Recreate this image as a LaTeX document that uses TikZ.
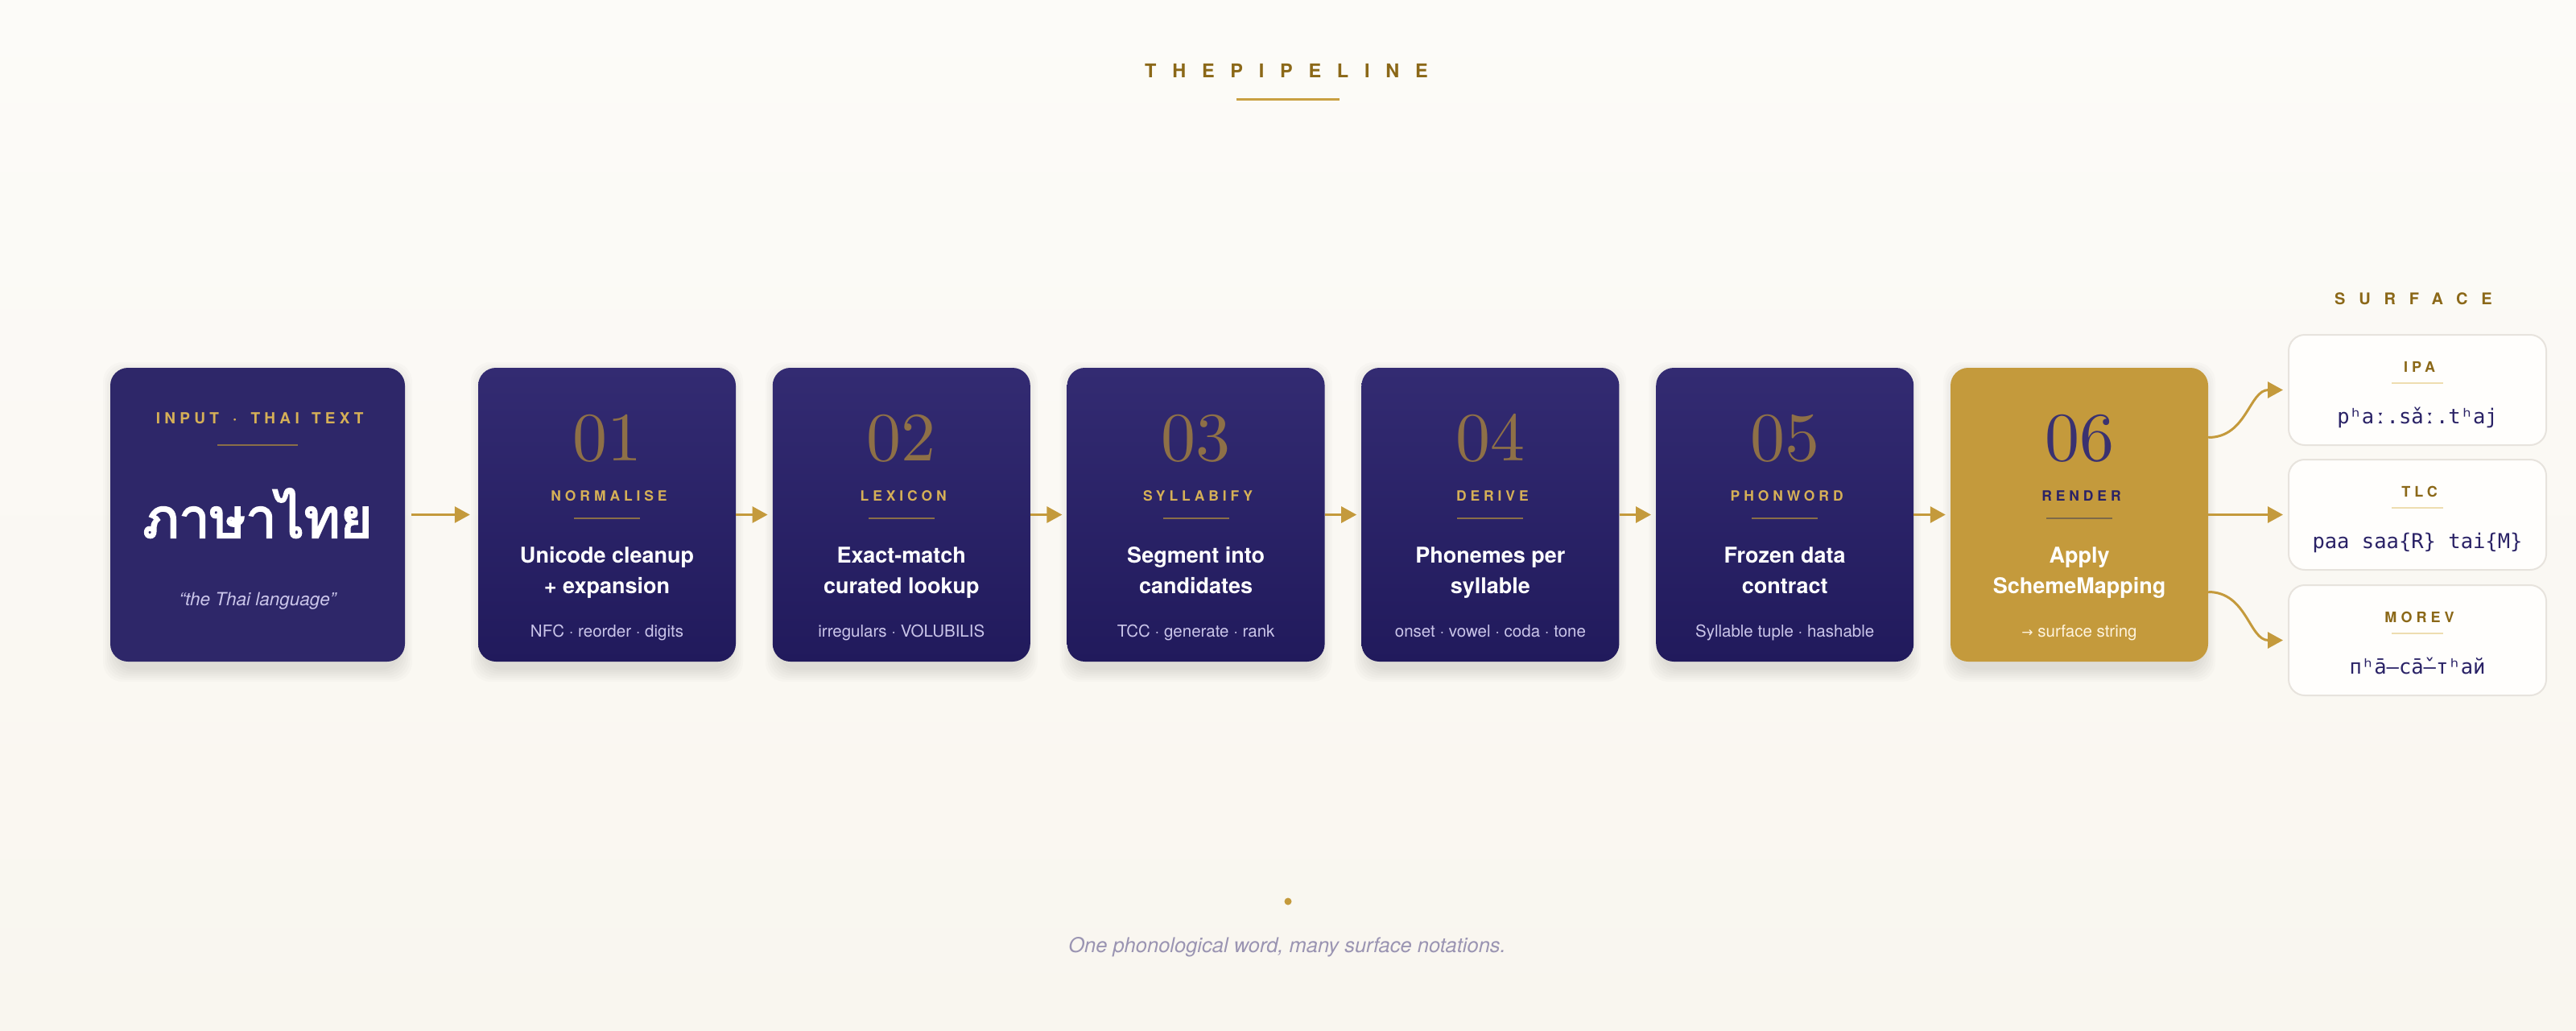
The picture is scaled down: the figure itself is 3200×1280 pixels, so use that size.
\documentclass[tikz,border=0pt]{standalone}
\usepackage{fontspec}
\usetikzlibrary{arrows.meta,calc}
\newfontfamily\heros{TeX Gyre Heros}
\newfontfamily\trackfont[LetterSpace=28]{TeX Gyre Heros}
\newfontfamily\widetrack[LetterSpace=84]{TeX Gyre Heros}
\newfontfamily\monof{DejaVu Sans Mono}
\newfontfamily\thaifont[Script=Thai,FakeBold=3]{Loma}
\newfontfamily\symfont{DejaVu Sans}
\newfontfamily\numfont{lmroman10-regular.otf}
\newcommand\fsz[1]{\fontsize{#1}{#1}\selectfont}
\definecolor{bgTop}{HTML}{FCFBF8}
\definecolor{bgBot}{HTML}{F9F6EF}
\definecolor{navyTop}{HTML}{332B72}
\definecolor{navyBot}{HTML}{211A5C}
\definecolor{navyIn}{HTML}{2E2769}
\definecolor{gold}{HTML}{C49A3C}
\definecolor{labC}{HTML}{D6B057}
\definecolor{numC}{HTML}{8E7047}
\definecolor{ruleC}{HTML}{8A6E47}
\definecolor{titleC}{HTML}{8B6818}
\definecolor{titleRule}{HTML}{C9A042}
\definecolor{lav}{HTML}{CBC6EA}
\definecolor{footC}{HTML}{9A94B2}
\definecolor{surfRule}{HTML}{EEDDB0}
\definecolor{monoC}{HTML}{2A2266}
\definecolor{surfBorder}{HTML}{E7E3DD}
\definecolor{surfFill}{HTML}{FFFEFC}
\definecolor{renderNum}{HTML}{3A3170}
\definecolor{renderLab}{HTML}{2A2266}
\definecolor{renderRule}{HTML}{7E6A48}
\definecolor{renderSub}{HTML}{FFF4DE}
\tikzset{
  stepbox/.style={minimum width=320pt, minimum height=365pt, rounded corners=22pt,
    inner sep=0pt, draw=none, top color=navyTop, bottom color=navyBot},
  inbox/.style={minimum width=366pt, minimum height=365pt, rounded corners=22pt,
    inner sep=0pt, draw=none, fill=navyIn},
  renderbox/.style={minimum width=320pt, minimum height=365pt, rounded corners=22pt,
    inner sep=0pt, draw=none, fill=gold},
  surfbox/.style={minimum width=320pt, minimum height=137pt, rounded corners=20pt,
    inner sep=0pt, draw=surfBorder, line width=2pt, fill=surfFill},
  numtxt/.style={anchor=base, inner sep=0pt, text=numC, font=\numfont\fsz{86}},
  labtxt/.style={anchor=base, inner sep=0pt, text=labC, font=\trackfont\bfseries\fsz{17.5}},
  ttl/.style={anchor=base, inner sep=0pt, text=white, font=\heros\bfseries\fsz{27}},
  subtxt/.style={anchor=base, inner sep=0pt, text=lav, font=\heros\fsz{20.5}},
  surflab/.style={anchor=base, inner sep=0pt, text=titleC, font=\trackfont\bfseries\fsz{18}},
  monotxt/.style={anchor=base, inner sep=0pt, text=monoC, font=\monof\fsz{25.5}},
  conn/.style={draw=gold, line width=3pt, -{Triangle[length=19pt,width=20pt]}},
}
\newcommand\softshadow[4]{%
  \foreach \e in {0,2.5,...,15}{%
    \fill[black,opacity=0.016,rounded corners=24pt] ({#1+6-\e},{#2+8-\e}) rectangle ({#3-6+\e},{#4+10+\e});}}
\newcommand\Step[7]{%
  \node[stepbox] (#1) at (#2,639.5) {};
  \node[numtxt] (#1-n) at (#2,572) {#3};
  \node[labtxt] (#1-l) at (#2,622) {#4\kern-0.28em};
  \draw[line width=2pt, draw=ruleC] (#2-41,644) -- (#2+41,644);
  \node[ttl] (#1-a) at (#2,699) {#5};
  \node[ttl] (#1-b) at (#2,737) {#6};
  \node[subtxt] (#1-s) at (#2,791) {#7};
}
\newcommand\Surf[4]{%
  \node[surfbox] (#1) at (3003,#2) {};
  \node[surflab] (#1-l) at (3003,#2-22.5) {#3\kern-0.28em};
  \draw[line width=2pt, draw=surfRule] (2971,#2-9) -- (3035,#2-9);
  \node[monotxt] (#1-v) at (3003,#2+41.5) {#4};
}
\begin{document}
\begin{tikzpicture}[x=1pt,y=-1pt]
\useasboundingbox (0,0) rectangle (3200,1280);
\shade[top color=bgTop, bottom color=bgBot] (0,0) rectangle (3200,1280);

% title
\node[anchor=base west, inner sep=0pt, text=titleC, font=\widetrack\bfseries\fsz{23.5}] (title) at (1422,96.7) {THEPIPELINE};
\draw[line width=3pt, draw=titleRule] (1536,123) -- (1664,123);

% shadows
\softshadow{137}{457}{503}{822}
\foreach \cx in {754,1119.8,1485.6,1851.4,2217.2,2583}{\softshadow{\cx-160}{457}{\cx+160}{822}}

% input box
\node[inbox] (inp) at (320,639.5) {};
\node[labtxt, font=\trackfont\bfseries\fsz{19}] (inp-l) at (320,526) {INPUT\hspace{0.9em}·\hspace{0.9em}THAI\hspace{0.8em}TEXT\kern-0.28em};
\draw[line width=2pt, draw=ruleC] (270,553) -- (370,553);
\node[anchor=base, inner sep=0pt, text=white, font=\thaifont\fsz{68}] (inp-t) at (320,668) {ภาษาไทย};
\node[anchor=base, inner sep=0pt, text=lav, font=\heros\itshape\fsz{22.5}] (inp-q) at (320,752) {“the Thai language”};

% steps
\Step{s1}{754}{01}{NORMALISE}{Unicode cleanup}{+ expansion}{NFC · reorder · digits}
\Step{s2}{1119.8}{02}{LEXICON}{Exact-match}{curated lookup}{irregulars · VOLUBILIS}
\Step{s3}{1485.6}{03}{SYLLABIFY}{Segment into}{candidates}{TCC · generate · rank}
\Step{s4}{1851.4}{04}{DERIVE}{Phonemes per}{syllable}{onset · vowel · coda · tone}
\Step{s5}{2217.2}{05}{PHONWORD}{Frozen data}{contract}{Syllable tuple · hashable}

% render
\node[renderbox] (r6) at (2583,639.5) {};
\node[numtxt, text=renderNum] (r6-n) at (2583,572) {06};
\node[labtxt, text=renderLab] (r6-l) at (2583,622) {RENDER\kern-0.28em};
\draw[line width=2pt, draw=renderRule] (2542,644) -- (2624,644);
\node[ttl] (r6-a) at (2583,699) {Apply};
\node[ttl] (r6-b) at (2583,737) {SchemeMapping};
\node[subtxt, text=renderSub] (r6-s) at (2583,791) {{\symfont\fsz{17}→} surface string};

% surface
\node[anchor=base west, inner sep=0pt, text=titleC, font=\widetrack\bfseries\fsz{20}] (surf) at (2900,378.6) {SURFACE};
\Surf{ipa}{484.5}{IPA}{pʰaː.sǎː.tʰaj}
\Surf{tlc}{639.5}{TLC}{paa saa\{R\} tai\{M\}}
\Surf{morev}{795.5}{MOREV}{пʰā–сā̌–тʰай}

% connectors
\draw[conn, shorten <=8pt, shorten >=10pt] (inp.east) -- (s1.west);
\draw[conn, shorten >=6pt] (s1.east) -- (s2.west);
\draw[conn, shorten >=6pt] (s2.east) -- (s3.west);
\draw[conn, shorten >=6pt] (s3.east) -- (s4.west);
\draw[conn, shorten >=6pt] (s4.east) -- (s5.west);
\draw[conn, shorten >=6pt] (s5.east) -- (r6.west);
\draw[conn, shorten >=6pt] ([yshift=96pt]r6.east) .. controls +(48,0) and +(-48,0) .. (ipa.west);
\draw[conn, shorten >=6pt] (r6.east) -- (tlc.west);
\draw[conn, shorten >=6pt] ([yshift=-96pt]r6.east) .. controls +(48,0) and +(-48,0) .. (morev.west);

% footer
\fill[gold] (1600,1120) circle (4.5);
\node[anchor=base, inner sep=0pt, text=footC, font=\heros\itshape\fsz{25.5}] (foot) at (1599,1183) {One phonological word, many surface notations.};
\end{tikzpicture}
\end{document}
